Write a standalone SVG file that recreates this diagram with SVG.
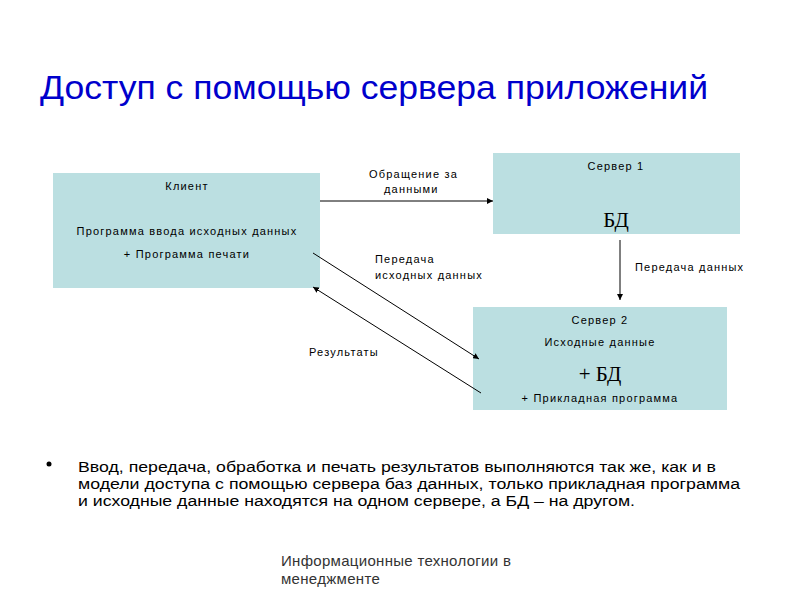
<svg xmlns="http://www.w3.org/2000/svg" width="800" height="600" viewBox="0 0 800 600">
<defs>
<style>
.box{fill:#BBDFE1;}
.t{font-family:"Liberation Sans",Arial,sans-serif;font-size:11px;fill:#000;letter-spacing:1.2px;}
.c{text-anchor:middle;}
.big{font-family:"Liberation Serif","Times New Roman",serif;font-size:21px;fill:#000;text-anchor:middle;}
.ln{stroke:#000;stroke-width:1;fill:none;}
.b{font-family:"Liberation Sans",Arial,sans-serif;font-size:15.5px;fill:#000;}
.f{font-family:"Liberation Sans",Arial,sans-serif;font-size:15px;fill:#333;letter-spacing:0.3px;}
</style>
<marker id="ah" viewBox="0 0 10 10" refX="10" refY="5" markerWidth="6" markerHeight="6" orient="auto-start-reverse" markerUnits="userSpaceOnUse">
<path d="M0,0 L10,5 L0,10 z" fill="#000"/>
</marker>
</defs>
<rect width="800" height="600" fill="#fff"/>
<text x="40" y="99" font-family="'Liberation Sans',Arial,sans-serif" font-size="34" fill="#0000CC" textLength="668" lengthAdjust="spacingAndGlyphs">Доступ с помощью сервера приложений</text>
<g id="client">
<rect class="box" x="53" y="173" width="267" height="115"/>
<text class="t c" x="187" y="190">Клиент</text>
<text class="t c" x="187" y="235">Программа ввода исходных данных</text>
<text class="t c" x="187" y="258">+  Программа печати</text>
</g>
<g id="server1">
<rect class="box" x="493" y="153" width="247" height="81"/>
<text class="t c" x="616" y="170">Сервер 1</text>
<text class="big" x="616" y="227">БД</text>
</g>
<g id="server2">
<rect class="box" x="473" y="307" width="254" height="103"/>
<text class="t c" x="600" y="324">Сервер 2</text>
<text class="t c" x="600" y="346">Исходные данные</text>
<text class="big" x="600" y="381">+ БД</text>
<text class="t c" x="600" y="402">+ Прикладная программа</text>
</g>
<g id="connectors">
<line class="ln" x1="320" y1="201" x2="493" y2="201" marker-end="url(#ah)"/>
<line class="ln" x1="620" y1="240" x2="620" y2="300" marker-end="url(#ah)"/>
<line class="ln" x1="313" y1="253" x2="479" y2="359" marker-end="url(#ah)"/>
<line class="ln" x1="481" y1="393" x2="313" y2="287" marker-end="url(#ah)"/>
<text class="t" x="369" y="178">Обращение за</text>
<text class="t" x="384" y="193">данными</text>
<text class="t" x="375" y="263">Передача</text>
<text class="t" x="375" y="279">исходных данных</text>
<text class="t" x="635" y="271">Передача данных</text>
<text class="t" x="309" y="356">Результаты</text>
</g>
<g id="bullet">
<circle cx="49" cy="464" r="2.5" fill="#000"/>
<text class="b" x="78" y="472" textLength="638" lengthAdjust="spacingAndGlyphs">Ввод, передача, обработка и печать результатов выполняются так же, как и в</text>
<text class="b" x="78" y="489" textLength="662" lengthAdjust="spacingAndGlyphs">модели доступа с помощью сервера баз данных, только прикладная программа</text>
<text class="b" x="78" y="506" textLength="557" lengthAdjust="spacingAndGlyphs">и исходные данные находятся на одном сервере, а БД – на другом.</text>
</g>
<g id="footer">
<text class="f" x="281" y="566">Информационные технологии в</text>
<text class="f" x="281" y="584">менеджменте</text>
</g>
</svg>
